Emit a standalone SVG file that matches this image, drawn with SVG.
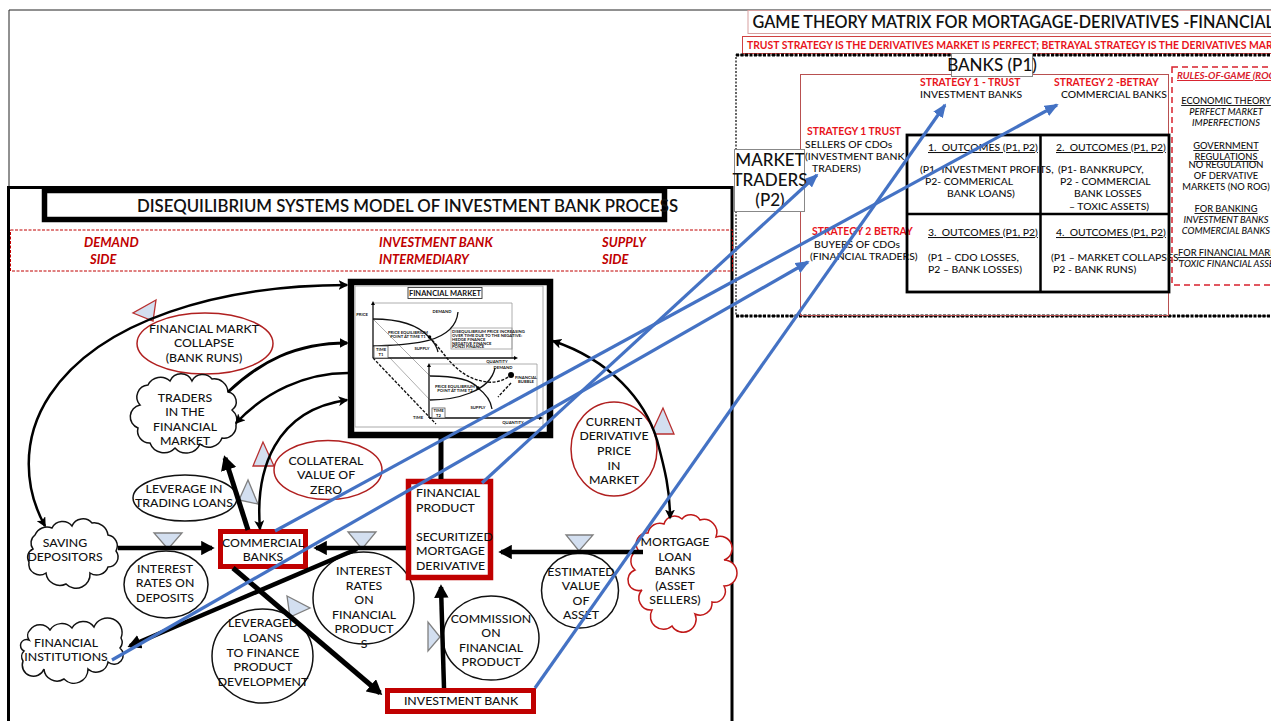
<svg xmlns="http://www.w3.org/2000/svg" width="1271" height="721" viewBox="0 0 1271 721">
<style>
text{font-family:Lato,"Liberation Sans",sans-serif;font-size:12.3px;font-weight:500;fill:#111}
.c{text-anchor:middle}
.r{font-size:10.4px;font-weight:500}
.red{fill:#e8141c;font-weight:700}
.side{fill:#c00000;font-size:13px;font-style:italic;font-weight:700}
.u{text-decoration:underline}
.i{font-style:italic}
.rg{font-size:9.3px}
.big{font-size:17px;font-weight:500}
.ell{fill:#fff;stroke:#111;stroke-width:1.5}
.ellr{fill:#fff;stroke:#b02020;stroke-width:1.5}
.cloud{fill:#fff;stroke:#111;stroke-width:1.5}
.cloudr{fill:#fff;stroke:#c01818;stroke-width:1.5}
.box{fill:#fff;stroke:#c00000;stroke-width:5}
.trg{fill:#d3dff0;stroke:#7f7f7f;stroke-width:1.3}
.trr{fill:#d3dff0;stroke:#b83030;stroke-width:1.3}
.k{fill:none;stroke:#000;stroke-width:2.5}
.kt{fill:none;stroke:#000;stroke-width:4.5;marker-end:url(#hk)}
.bl{fill:none;stroke:#4472c4;stroke-width:3.2;marker-end:url(#hb)}
.t{font-size:4.2px;font-weight:700}
.g{fill:none;stroke:#999;stroke-width:.8}
.a{fill:none;stroke:#111;stroke-width:1.3}
</style>
<defs>
<marker id="hk" markerUnits="strokeWidth" markerWidth="3" markerHeight="3.2" refX="2.4" refY="1.6" orient="auto"><path d="M0,0L3,1.6L0,3.2Z" fill="#000"/></marker>
<marker id="ht" markerUnits="strokeWidth" markerWidth="4" markerHeight="4" refX="3.4" refY="2" orient="auto-start-reverse"><path d="M0,0L4,2L0,4L1,2Z" fill="#000"/></marker>
<marker id="hb" markerUnits="strokeWidth" markerWidth="4.4" markerHeight="3.6" refX="3.8" refY="1.8" orient="auto"><path d="M0,0L4.4,1.8L0,3.6Z" fill="#4472c4"/></marker>
</defs>
<rect width="1271" height="721" fill="#fff"/>

<g id="frames">
<path d="M9,186V10H1271" fill="none" stroke="#222" stroke-width="1"/>
<path d="M8.500,721V187.500H732V721" fill="none" stroke="#000" stroke-width="3"/>
</g>

<g id="title-left">
<rect x="44.500" y="190.500" width="620" height="29" fill="#fff" stroke="#000" stroke-width="5.500"/>
<text x="137" y="211.500" style="font-size:16.800px;font-weight:600">DISEQUILIBRIUM SYSTEMS MODEL OF INVESTMENT BANK PROCESS</text>
</g>
<g id="side-band">
<rect x="10.500" y="230" width="722" height="41" fill="none" stroke="#c00000" stroke-width="1" stroke-dasharray="3 1.500"/>
<text class="side" x="84" y="247">DEMAND</text><text class="side" x="90" y="264">SIDE</text>
<text class="side" x="379" y="247">INVESTMENT BANK</text><text class="side" x="379" y="264">INTERMEDIARY</text>
<text class="side" x="602" y="247">SUPPLY</text><text class="side" x="602" y="264">SIDE</text>
</g>

<g id="financial-market">
<rect x="351" y="282" width="199" height="153" fill="#fff" stroke="#000" stroke-width="6.500"/>
<rect x="355" y="286" width="188" height="141" fill="none" stroke="#aaa" stroke-width="1"/>
<rect x="408" y="287.500" width="74" height="11" fill="#fff" stroke="#333" stroke-width=".9"/>
<text class="c" x="445" y="296" style="font-size:7.500px;font-weight:700">FINANCIAL MARKET</text>
<path class="g" d="M373,303H512V358M430,364H537V418M373,319L430,376M390,358L430,400"/>
<rect class="g" x="451" y="328" width="61" height="21"/>
<path class="a" d="M373,358V303M373,358H516M429,418V365M429,418H541"/>
<path d="M373,301l-2,4h4zM518,358l-4,-2v4zM429,363l-2,4h4zM543,418l-4,-2v4z"/>
<path class="a" d="M373,319C405,319 420,327 429,337C434,342 437,347 438,352M373,346C405,345 455,345 458,312M430,376C455,376 472,380 478,388C486,394 491,402 492,409M430,400C455,400 490,392 495,368"/>
<path d="M373,358L436,424" fill="none" stroke="#111" stroke-width="1.300" stroke-dasharray="3 1.500"/>
<path d="M429,337C445,352 455,378 487,382C497,383 505,380 511,375M511,383L498,397" fill="none" stroke="#111" stroke-width="1.400" stroke-dasharray="3 1.500"/>
<circle cx="429.500" cy="337" r="1.800"/><circle cx="478" cy="388" r="1.800"/><circle cx="511" cy="375" r="3"/>
<rect x="374" y="346" width="14" height="12" fill="#fff" stroke="#555" stroke-width=".8"/>
<rect x="432" y="408" width="13" height="10" fill="#fff" stroke="#555" stroke-width=".8"/>
<text class="t c" x="381" y="351">TIME</text><text class="t c" x="381" y="356">T1</text>
<text class="t c" x="438.500" y="412">TIME</text><text class="t c" x="438.500" y="417">T2</text>
<text class="t c" x="362" y="316">PRICE</text><text class="t c" x="442" y="313">DEMAND</text>
<text class="t c" x="408" y="334">PRICE EQUILIBRIUM</text><text class="t c" x="408" y="338">POINT AT TIME T1</text>
<text class="t c" x="422" y="350">SUPPLY</text><text class="t c" x="497" y="363">QUANTITY</text>
<text class="t c" x="503" y="369">DEMAND</text><text class="t c" x="526" y="379">FINANCIAL</text><text class="t c" x="526" y="383">BUBBLE</text>
<text class="t c" x="455" y="388">PRICE EQUILIBRIUM</text><text class="t c" x="455" y="392">POINT AT TIME T2</text>
<text class="t c" x="478" y="409">SUPPLY</text><text class="t c" x="418" y="419">TIME</text><text class="t c" x="513" y="424">QUANTITY</text>
<text class="t" x="452" y="333">DISEQUILIBRIUM PRICE INCREASING</text><text class="t" x="452" y="337">OVER TIME DUE TO THE NEGATIVE:</text><text class="t" x="452" y="341">HEDGE FINANCE</text><text class="t" x="452" y="344.500">NEGATIVE FINANCE</text><text class="t" x="452" y="348">PONZI FINANCE</text>
</g>

<g id="collapse"><path class="trr" d="M156,300L133,313L153,321Z"/><ellipse class="ellr" cx="205" cy="343.500" rx="68" ry="30.500"/>
<text class="c" x="204" y="333">FINANCIAL MARKT</text><text class="c" x="204" y="347">COLLAPSE</text><text class="c" x="204" y="362">(BANK RUNS)</text></g>

<g id="traders"><path class="cloud" d="M140,405A12,12 0 0 1 148,385A14,14 0 0 1 170,381A12,12 0 0 1 192,381A12,12 0 0 1 212,379A14,14 0 0 1 228,392A10,10 0 0 1 232,410A14,14 0 0 1 236,425A12,12 0 0 1 222,438A14,14 0 0 1 200,444A15,15 0 0 1 175,448A15,15 0 0 1 150,443A12,12 0 0 1 138,428A12,12 0 0 1 140,405Z"/>
<text class="c" x="185" y="402">TRADERS</text><text class="c" x="185" y="416">IN THE</text><text class="c" x="185" y="431">FINANCIAL</text><text class="c" x="185" y="445">MARKET</text></g>

<g id="collateral"><path class="trr" d="M263,442L253,466L274,466Z"/><ellipse class="ellr" cx="328" cy="470" rx="54" ry="29.500"/>
<text class="c" x="326" y="465">COLLATERAL</text><text class="c" x="326" y="479">VALUE OF</text><text class="c" x="326" y="494">ZERO</text></g>

<g id="current-price"><path class="trr" d="M663,408L651,434L674,434Z"/><ellipse class="ellr" cx="614" cy="449" rx="43" ry="47"/>
<text class="c" x="614" y="426">CURRENT</text><text class="c" x="614" y="440">DERIVATIVE</text><text class="c" x="614" y="455">PRICE</text><text class="c" x="614" y="470">IN</text><text class="c" x="614" y="484">MARKET</text></g>

<g id="leverage-trading"><path class="trg" d="M248,480L239,500L258,504Z"/><ellipse class="ell" cx="185" cy="498" rx="52" ry="23"/>
<text class="c" x="184" y="493">LEVERAGE IN</text><text class="c" x="184" y="507">TRADING LOANS</text></g>

<g id="saving"><path class="cloud" d="M33,549A10,10 0 0 1 35,535A13,13 0 0 1 52,528A12,12 0 0 1 72,526A12,12 0 0 1 92,523A14,14 0 0 1 108,535A11,11 0 0 1 116,551A10,10 0 0 1 108,567A12,12 0 0 1 90,573A14,14 0 0 1 66,584A14,14 0 0 1 46,573A11,11 0 0 1 29,562A9,9 0 0 1 33,549Z"/>
<text class="c" x="65" y="547">SAVING</text><text class="c" x="65" y="561">DEPOSITORS</text></g>

<g id="interest-deposits"><path class="trg" d="M154,533L182,533L168,549Z"/><ellipse class="ell" cx="166" cy="584.500" rx="42" ry="33.500"/>
<text class="c" x="165" y="573">INTEREST</text><text class="c" x="165" y="587">RATES  ON</text><text class="c" x="165" y="602">DEPOSITS</text></g>

<g id="financial-institutions"><path class="cloud" d="M29,640A8,8 0 0 1 30,630A12,12 0 0 1 50,630A14,14 0 0 1 72,628A13,13 0 0 1 94,627A13,13 0 0 1 121,638A9,9 0 0 1 120,648A9,9 0 0 1 108,662A12,12 0 0 1 88,669A14,14 0 0 1 64,679A13,13 0 0 1 44,669A10,10 0 0 1 23,661A8,8 0 0 1 24,651A6,6 0 0 1 29,640Z"/>
<text class="c" x="66" y="647">FINANCIAL</text><text class="c" x="66" y="661">INSTITUTIONS</text></g>

<g id="commercial-banks"><rect class="box" x="220.500" y="531.500" width="85" height="35"/>
<text class="c" x="263" y="547">COMMERCIAL</text><text class="c" x="263" y="561">BANKS</text></g>

<g id="leveraged-loans"><path class="trg" d="M287,596L310,608L290,617Z"/><ellipse class="ell" cx="262.500" cy="656" rx="50.500" ry="47"/>
<text class="c" x="263" y="627">LEVERAGED</text><text class="c" x="263" y="642">LOANS</text><text class="c" x="263" y="657">TO FINANCE</text><text class="c" x="263" y="671">PRODUCT</text><text class="c" x="263" y="686">DEVELOPMENT</text></g>

<g id="interest-products"><path class="trg" d="M348,532L376,532L362,549Z"/><ellipse class="ell" cx="363.500" cy="598" rx="50.500" ry="46"/>
<text class="c" x="364" y="575">INTEREST</text><text class="c" x="364" y="590">RATES</text><text class="c" x="364" y="604">ON</text><text class="c" x="364" y="619">FINANCIAL</text><text class="c" x="364" y="633">PRODUCT</text><text class="c" x="364" y="648">S</text></g>

<g id="financial-product"><rect class="box" x="408.500" y="481.500" width="82" height="96" style="stroke-width:5.500"/>
<text x="416" y="497">FINANCIAL</text><text x="416" y="512">PRODUCT</text><text x="416" y="541">SECURITIZED</text><text x="416" y="555">MORTGAGE</text><text x="416" y="570">DERIVATIVE</text></g>

<g id="commission"><path class="trg" d="M428,622L428,651L440,637Z"/><ellipse class="ell" cx="491" cy="638" rx="48" ry="42"/>
<text class="c" x="491" y="623">COMMISSION</text><text class="c" x="491" y="637">ON</text><text class="c" x="491" y="652">FINANCIAL</text><text class="c" x="491" y="666">PRODUCT</text></g>

<g id="estimated-value"><path class="trg" d="M566,535L593,535L579,551Z"/><ellipse class="ell" cx="580" cy="590.500" rx="38.500" ry="37.500"/>
<text class="c" x="581" y="576">ESTIMATED</text><text class="c" x="581" y="590">VALUE</text><text class="c" x="581" y="605">OF</text><text class="c" x="581" y="619">ASSET</text></g>

<g id="mortgage-banks"><path class="cloudr" d="M648,533A12,12 0 0 1 664,524A11,11 0 0 1 682,519A11,11 0 0 1 700,520A13,13 0 0 1 716,537A12,12 0 0 1 724,560A13,13 0 0 1 724,586A11,11 0 0 1 712,602A12,12 0 0 1 695,614A13,13 0 0 1 672,626A13,13 0 0 1 652,610A12,12 0 0 1 642,590A10,10 0 0 1 635,570A12,12 0 0 1 638,550A11,11 0 0 1 648,533Z"/>
<text class="c" x="675" y="546">MORTGAGE</text><text class="c" x="675" y="561">LOAN</text><text class="c" x="675" y="575">BANKS</text><text class="c" x="675" y="590">(ASSET</text><text class="c" x="675" y="604">SELLERS)</text></g>

<g id="investment-bank"><rect class="box" x="387.500" y="690.500" width="146" height="21"/>
<text class="c" x="461" y="705">INVESTMENT BANK</text></g>

<g id="game-title">
<rect x="748" y="10.500" width="540" height="23" fill="#fff" stroke="#d8a0a0" stroke-width="1"/>
<text x="752.500" y="28" style="font-size:16.200px;font-weight:600">GAME THEORY MATRIX FOR MORTAGAGE-DERIVATIVES -FINANCIAL-MARKET</text>
<rect x="742.500" y="36.500" width="545" height="17" fill="#fff" stroke="#d04040" stroke-width="1"/>
<text class="red" x="747" y="49" style="font-size:10.400px">TRUST STRATEGY IS THE DERIVATIVES MARKET IS PERFECT; BETRAYAL STRATEGY IS THE DERIVATIVES MARKET IS IMPERFECT.</text>
</g>

<g id="game-frame">
<rect x="736" y="55" width="560" height="261" fill="none" stroke="#000" stroke-width="1.200" stroke-dasharray="2 1.500"/>
<path d="M736,55H1271M736,316H1271" fill="none" stroke="#000" stroke-width="3" stroke-dasharray="3 1.500"/>
<rect x="800.500" y="74.500" width="368" height="241" fill="none" stroke="#b85050" stroke-width="1"/>
</g>

<g id="banks-p1"><rect x="951.500" y="53.500" width="81" height="23" fill="#fff" stroke="#888" stroke-width="1"/>
<text class="big c" x="992" y="71">BANKS (P1)</text></g>
<g id="market-traders"><rect x="734.500" y="149.500" width="70" height="62" fill="#fff" stroke="#888" stroke-width="1"/>
<text class="big c" x="770" y="166">MARKET</text><text class="big c" x="770" y="186">TRADERS</text><text class="big c" x="770" y="206">(P2)</text></g>

<g id="strategies">
<text class="r red" x="920" y="86">STRATEGY 1  - TRUST</text><text class="r" x="920" y="98">INVESTMENT BANKS</text>
<text class="r red" x="1054" y="86">STRATEGY 2 -BETRAY</text><text class="r" x="1061" y="98">COMMERCIAL BANKS</text>
<text class="r red" x="807" y="135">STRATEGY 1 TRUST</text><text class="r" x="805" y="148">SELLERS OF CDOs</text><text class="r" x="805" y="160">(INVESTMENT BANK</text><text class="r" x="812" y="172">TRADERS)</text>
<text class="r red" x="812" y="235">STRATEGY 2 BETRAY</text><text class="r" x="814" y="248">BUYERS OF CDOs</text><text class="r" x="810" y="260">(FINANCIAL TRADERS)</text>
</g>

<g id="matrix">
<rect x="907" y="135" width="262" height="157" fill="none" stroke="#000" stroke-width="2.800"/>
<path d="M1040.500,135V292M907,214H1169" stroke="#000" stroke-width="2.500" fill="none"/>
<text class="r u" x="928" y="151" xml:space="preserve">1.  OUTCOMES (P1, P2)</text>
<text class="r" x="920" y="173">(P1- INVESTMENT PROFITS,</text><text class="r" x="925" y="185">P2-  COMMERICAL</text><text class="r" x="947" y="197">BANK LOANS)</text>
<text class="r u" x="1056" y="151" xml:space="preserve">2.  OUTCOMES (P1, P2)</text>
<text class="r" x="1058" y="173">(P1- BANKRUPCY,</text><text class="r" x="1060" y="185">P2 - COMMERCIAL</text><text class="r" x="1074" y="197">BANK LOSSES</text><text class="r" x="1069" y="210">– TOXIC ASSETS)</text>
<text class="r u" x="928" y="236" xml:space="preserve">3.  OUTCOMES (P1, P2)</text>
<text class="r" x="928" y="261">(P1 – CDO LOSSES,</text><text class="r" x="928" y="273">P2 – BANK LOSSES)</text>
<text class="r u" x="1056" y="236" xml:space="preserve">4.  OUTCOMES (P1, P2)</text>
<text class="r" x="1051" y="261">(P1 – MARKET COLLAPSES,</text><text class="r" x="1053" y="273">P2 - BANK RUNS)</text>
</g>

<g id="rules-of-game">
<rect x="1172" y="67" width="120" height="218" fill="none" stroke="#d8202c" stroke-width="1.500" stroke-dasharray="6 4"/>
<text class="rg u i" x="1177" y="79" style="fill:#d8202c;font-weight:700;font-size:9.800px">RULES-OF-GAME (ROG)</text>
<text class="rg c u" x="1226" y="104">ECONOMIC THEORY</text><text class="rg c i" x="1226" y="115">PERFECT MARKET</text><text class="rg c i" x="1226" y="126">IMPERFECTIONS</text>
<text class="rg c u" x="1226" y="149">GOVERNMENT</text><text class="rg c u" x="1226" y="160">REGULATIONS</text>
<text class="rg c" x="1226" y="168">NO REGULATION</text><text class="rg c" x="1226" y="179">OF DERVATIVE</text><text class="rg c" x="1226" y="190">MARKETS (NO ROG)</text>
<text class="rg c u" x="1226" y="212">FOR BANKING</text><text class="rg c i" x="1226" y="223">INVESTMENT BANKS</text><text class="rg c i" x="1226" y="234">COMMERCIAL BANKS</text>
<text class="rg u" x="1178" y="256">FOR FINANCIAL MARKET</text><text class="rg i" x="1179" y="267">TOXIC FINANCIAL ASSETS</text>
</g>

<g id="connectors">
<path class="k" d="M347,285C220,285 100,320 50,395C20,440 25,490 45,526" marker-start="url(#ht)" marker-end="url(#ht)"/>
<path class="k" style="stroke-width:3" d="M228,392C260,362 295,343 347,343" marker-end="url(#hk)"/>
<path class="k" d="M348,373C305,373 265,392 236,423" marker-end="url(#ht)"/>
<path class="k" d="M260,529C255,470 275,410 347,400" marker-start="url(#ht)" marker-end="url(#ht)"/>
<path class="k" d="M553,341C610,360 645,400 657,440C665,470 670,490 670,518" marker-start="url(#ht)" marker-end="url(#ht)"/>
<path class="kt" d="M118,548H212"/>
<path class="kt" d="M643,552H501"/>
<path class="kt" d="M406,548H316"/>
<path class="kt" d="M357,549L130,646"/>
<path class="kt" style="stroke-width:5" d="M233,568L380,693"/>
<path class="kt" d="M444,688L441,587"/>
<path class="kt" style="stroke-width:5" d="M248,530L225,458"/>
<path d="M441,479V438" stroke="#000" stroke-width="5" fill="none"/>
<path class="bl" d="M535,688L945,105"/>
<path class="bl" d="M482,483L817,175"/>
<path class="bl" d="M275,531L1057,105"/>
<path class="bl" d="M112,660L808,262"/>
</g>
</svg>
